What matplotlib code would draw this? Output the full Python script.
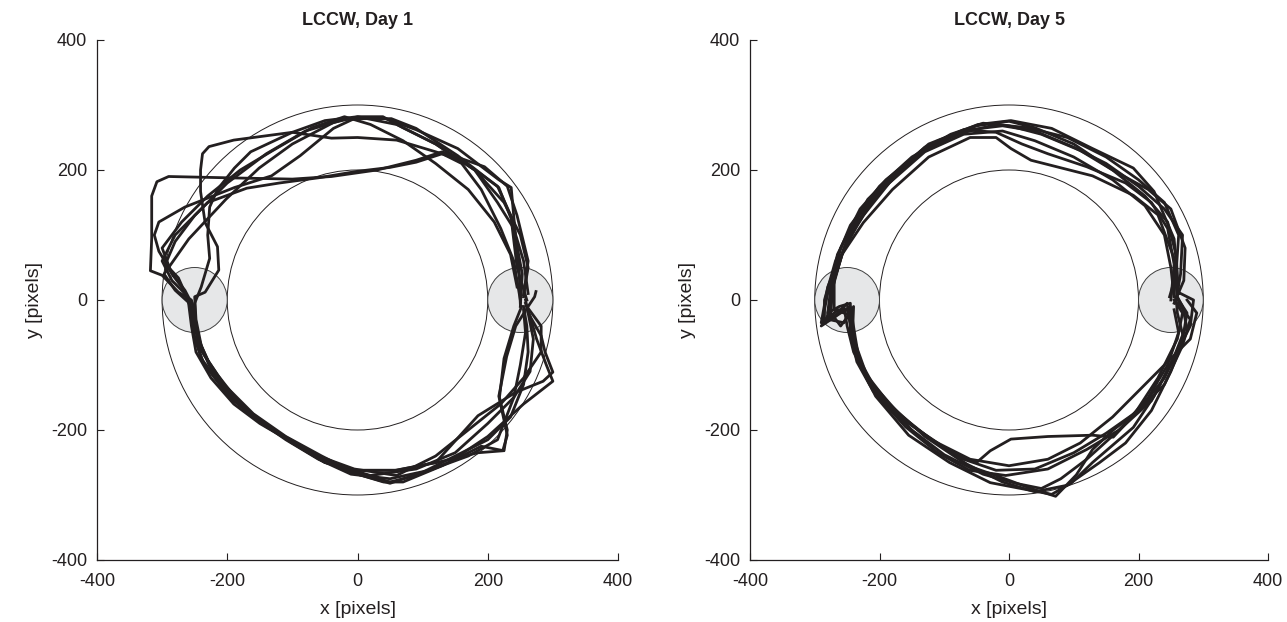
"""LCCW trajectories, Day 1 vs Day 5 (x/y in pixels)."""
import matplotlib
matplotlib.use("Agg")
import matplotlib.pyplot as plt
from matplotlib.patches import Circle

plt.rcParams["font.family"] = ["Liberation Sans", "DejaVu Sans"]
plt.rcParams["axes.unicode_minus"] = False

# track geometry
R_IN, R_OUT = 200, 300
TARGET_X, TARGET_R = 250, 50
TICKS = [-400, -200, 0, 200, 400]
TITLES = ["LCCW, Day 1", "LCCW, Day 5"]

# Day 1 trajectories, (x, y)
d1_a = [(255, 5), (262, 60), (245, 130), (230, 175), (195, 205), (130, 228), (90, 215), (30, 200), (-40, 190),
        (-100, 186), (-200, 188), (-290, 190), (-308, 182), (-316, 160), (-316, 95), (-318, 45), (-300, 38),
        (-275, 12), (-255, 0), (-250, -20), (-245, -60), (-228, -100), (-195, -150), (-150, -185), (-100, -220),
        (-50, -250), (0, -262), (60, -262), (120, -250), (185, -178), (243, -142), (285, -125), (300, -111),
        (288, -80), (282, -55), (262, -20), (258, 0)]
d1_b = [(250, -5), (248, 50), (240, 120), (215, 175), (160, 215), (120, 228), (60, 246), (0, 250), (-40, 249),
        (-100, 258), (-190, 246), (-228, 236), (-238, 225), (-241, 200), (-241, 167), (-234, 119), (-215, 82),
        (-213, 46), (-234, 12), (-250, 5), (-248, -30), (-240, -70), (-222, -110), (-190, -155), (-140, -195),
        (-80, -230), (-20, -262), (40, -280), (70, -280), (130, -255), (190, -225), (225, -232), (230, -200),
        (218, -150), (225, -90), (240, -40), (252, -10)]
d1_c = [(260, 0), (245, 50), (236, 125), (217, 173), (154, 222), (90, 264), (52, 279), (-5, 279), (-37, 264),
        (-88, 222), (-132, 191), (-189, 173), (-265, 143), (-305, 120), (-312, 100), (-305, 75), (-290, 50),
        (-275, 34), (-260, 0), (-255, -40), (-248, -80), (-225, -120), (-190, -160), (-150, -190), (-90, -225),
        (-30, -255), (20, -270), (90, -260), (150, -235), (200, -190), (240, -150), (265, -110), (270, -60),
        (262, -20)]
d1_d = [(262, 10), (255, 60), (240, 110), (215, 150), (180, 200), (120, 240), (70, 265), (39, 282), (1, 282),
        (-37, 273), (-100, 240), (-151, 203), (-202, 155), (-259, 94), (-297, 40), (-280, 15), (-258, -5),
        (-252, -50), (-240, -90), (-210, -130), (-170, -170), (-120, -205), (-60, -240), (-5, -260), (60, -270),
        (120, -240), (170, -200), (220, -160), (255, -120), (282, -80), (282, -40), (260, -10)]
d1_e = [(255, 8), (262, 50), (250, 100), (225, 150), (180, 200), (120, 240), (60, 270), (0, 282), (-50, 276),
        (-100, 258), (-164, 228), (-189, 203), (-215, 170), (-227, 143), (-230, 100), (-227, 64), (-240, 20),
        (-250, -5), (-248, -45), (-235, -85), (-205, -130), (-160, -175), (-110, -210), (-55, -240), (0, -268),
        (50, -282), (100, -265), (150, -240), (200, -215), (235, -180), (255, -130), (262, -80), (260, -40),
        (255, -10)]
d1_f = [(250, 0), (240, 60), (220, 110), (190, 170), (160, 210), (130, 225), (90, 212), (50, 204), (0, 198),
        (-60, 188), (-120, 180), (-170, 172), (-230, 150), (-280, 100), (-300, 60), (-285, 30), (-265, 10),
        (-255, -15), (-250, -60), (-235, -100), (-200, -145), (-160, -180), (-110, -215), (-60, -245),
        (-10, -268), (50, -275), (110, -262), (170, -240), (215, -215), (240, -150), (250, -100), (258, -50),
        (255, -15)]
d1_g = [(245, 20), (235, 70), (210, 120), (170, 170), (120, 210), (70, 245), (20, 270), (-20, 282), (-70, 265),
        (-130, 230), (-180, 200), (-230, 160), (-270, 120), (-300, 80), (-285, 40), (-265, 15), (-252, -10),
        (-246, -57), (-227, -99), (-196, -148), (-151, -184), (-100, -220), (-50, -250), (-5, -262), (58, -262),
        (122, -250), (185, -235), (223, -232), (230, -208), (217, -148), (229, -87), (243, -40), (262, -10),
        (272, 5), (274, 13)]
d1_h = [(250, -10), (253, 40), (243, 94), (236, 173), (217, 185), (154, 233), (90, 262), (40, 280), (-20, 278),
        (-80, 260), (-140, 225), (-200, 180), (-250, 130), (-280, 90), (-295, 55), (-270, 20), (-258, -2),
        (-250, -40), (-242, -75), (-215, -115), (-180, -160), (-130, -200), (-70, -235), (-10, -262), (50, -280),
        (90, -270), (140, -250), (200, -210), (255, -160), (300, -125), (290, -100), (275, -60), (265, -25),
        (258, -5)]

# Day 5 trajectories
d5_a = [(255, 10), (258, 60), (255, 94), (224, 167), (192, 203), (129, 233), (66, 264), (3, 276), (-48, 270),
        (-124, 240), (-174, 197), (-218, 155), (-250, 94), (-269, 34), (-281, -27), (-290, -40), (-260, -20),
        (-245, -10), (-237, -60), (-230, -100), (-206, -148), (-155, -208), (-92, -250), (-29, -281), (34, -293),
        (66, -299), (97, -281), (129, -250), (192, -196), (224, -148), (255, -87), (274, -39), (268, -10),
        (260, 5)]
d5_b = [(260, 0), (255, 64), (230, 131), (192, 161), (129, 191), (34, 215), (3, 233), (-20, 250), (-60, 250),
        (-124, 220), (-180, 170), (-225, 119), (-262, 64), (-280, 20), (-290, -35), (-275, -30), (-255, -10),
        (-250, -40), (-240, -80), (-215, -130), (-170, -180), (-110, -220), (-61, -256), (-20, -270), (34, -290),
        (72, -302), (104, -269), (129, -230), (161, -200), (200, -170), (240, -120), (268, -60), (275, -20),
        (262, 0)]
d5_c = [(248, 5), (258, 40), (262, 100), (240, 150), (200, 185), (150, 220), (90, 250), (30, 265), (-20, 270),
        (-80, 255), (-140, 225), (-190, 185), (-230, 140), (-260, 80), (-272, 30), (-275, -20), (-260, -40),
        (-245, -20), (-238, -70), (-225, -110), (-190, -160), (-140, -200), (-90, -235), (-50, -250),
        (-29, -232), (3, -214), (60, -210), (129, -208), (161, -211), (192, -178), (230, -120), (260, -60),
        (268, -20), (255, 0)]
d5_d = [(255, -5), (270, 30), (272, 80), (250, 140), (215, 170), (160, 200), (100, 240), (40, 265), (0, 275),
        (-50, 268), (-110, 245), (-160, 210), (-200, 170), (-240, 120), (-265, 70), (-275, 20), (-280, -20),
        (-262, -10), (-245, -5), (-245, -50), (-235, -95), (-210, -140), (-160, -195), (-110, -235), (-61, -262),
        (-5, -270), (60, -260), (120, -230), (170, -200), (220, -155), (255, -90), (280, -40), (285, 0), (265, 10)]
d5_e = [(262, 10), (258, 70), (245, 120), (210, 160), (160, 200), (110, 230), (50, 255), (0, 268), (-40, 272),
        (-90, 255), (-150, 220), (-200, 175), (-245, 115), (-268, 60), (-285, 0), (-285, -35), (-265, -15),
        (-250, -15), (-238, -65), (-220, -115), (-185, -160), (-130, -210), (-70, -250), (-10, -280), (40, -295),
        (90, -285), (140, -250), (180, -220), (220, -170), (250, -110), (270, -60), (260, -20), (258, 5)]
d5_f = [(250, 0), (255, 55), (245, 110), (220, 150), (180, 180), (120, 205), (60, 225), (20, 240), (-20, 258),
        (-70, 262), (-130, 235), (-175, 195), (-215, 150), (-245, 100), (-265, 55), (-280, 10), (-288, -30),
        (-268, -25), (-250, -5), (-245, -40), (-232, -90), (-210, -130), (-170, -175), (-120, -215), (-70, -245),
        (-20, -262), (40, -260), (100, -235), (150, -205), (200, -170), (240, -130), (268, -70), (280, -30),
        (262, -5)]
d5_g = [(258, 0), (265, 40), (268, 100), (240, 140), (200, 175), (150, 210), (100, 235), (40, 260), (-10, 268),
        (-60, 262), (-120, 238), (-165, 200), (-205, 160), (-235, 115), (-258, 70), (-272, 20), (-278, -30),
        (-255, -35), (-240, -10), (-242, -60), (-228, -105), (-200, -150), (-150, -200), (-100, -238),
        (-40, -268), (10, -282), (50, -290), (80, -275), (120, -245), (170, -200), (215, -150), (245, -100),
        (262, -50), (255, -15)]
d5_h = [(255, 5), (250, 50), (240, 100), (210, 145), (160, 185), (100, 220), (40, 245), (-10, 260), (-70, 255),
        (-130, 228), (-185, 180), (-225, 130), (-255, 80), (-270, 30), (-270, -15), (-255, -20), (-242, -25),
        (-240, -70), (-220, -120), (-180, -170), (-120, -215), (-60, -245), (0, -255), (60, -245), (110, -220),
        (160, -180), (210, -130), (250, -90), (280, -60), (290, -20), (275, 0)]

DAY1 = [d1_a, d1_b, d1_c, d1_d, d1_e, d1_f, d1_g, d1_h]
DAY5 = [d5_a, d5_b, d5_c, d5_d, d5_e, d5_f, d5_g, d5_h]

INK = "#231f20"

fig = plt.figure(figsize=(12.87, 6.22), dpi=100)
ax1 = fig.add_axes([97 / 1287, 62 / 622, 521 / 1287, 520 / 622])
ax2 = fig.add_axes([750 / 1287, 62 / 622, 518 / 1287, 520 / 622])

for ax, trajs, title in zip([ax1, ax2], [DAY1, DAY5], TITLES):
    for r in (R_IN, R_OUT):
        ax.add_patch(Circle((0, 0), r, fill=False, ec=INK, lw=0.7, zorder=1))
    for cx in (-TARGET_X, TARGET_X):
        ax.add_patch(Circle((cx, 0), TARGET_R, fc="#e6e7e8", ec="#404040", lw=0.7, zorder=2))
    for tr in trajs:
        xs = [p[0] for p in tr]
        ys = [p[1] for p in tr]
        ax.plot(xs, ys, color=INK, lw=2.0, solid_joinstyle="round", zorder=3)
    ax.set_xlim(-400, 400); ax.set_ylim(-400, 400)
    ax.set_xticks(TICKS); ax.set_yticks(TICKS)
    ax.spines["top"].set_visible(False); ax.spines["right"].set_visible(False)
    for s in ("left", "bottom"):
        ax.spines[s].set_linewidth(0.9); ax.spines[s].set_color(INK)
    ax.tick_params(direction="in", length=5, width=0.8, labelsize=13, colors=INK)
    ax.tick_params(axis="x", pad=9)
    ax.tick_params(axis="y", pad=7)
    ax.set_xlabel("x [pixels]", fontsize=14, color=INK, labelpad=8)
    ax.set_ylabel("y [pixels]", fontsize=14, color=INK, labelpad=6)
    ax.set_title(title, fontsize=13, fontweight="bold", color=INK, pad=11)

fig.savefig("out.png", dpi=100)
